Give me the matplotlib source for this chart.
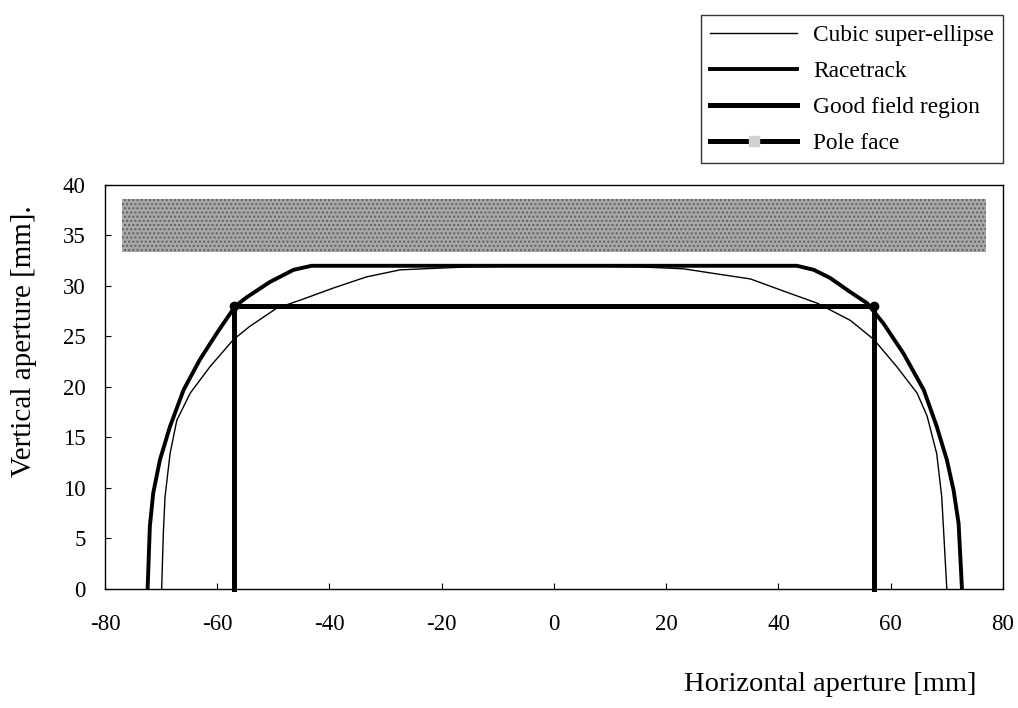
import matplotlib
matplotlib.use("Agg")
import matplotlib.pyplot as plt
from matplotlib.lines import Line2D

plt.rcParams['font.family'] = ['Liberation Serif', 'DejaVu Serif']
plt.rcParams['axes.unicode_minus'] = False

# cubic super-ellipse (thin line)
se_x = [-69.9, -69.6, -69.3, -68.4, -67.2, -64.8, -61.3, -57.1, -54.2, -49.4,
        -45.2, -39.3, -33.4, -27.4, -15.0, 0.0, 15.0, 23.1, 29.0, 35.0,
        40.9, 46.9, 52.8, 57.0, 61.1, 64.7, 66.5, 68.2, 69.1, 70.0]
se_y = [0.0, 5.5, 9.1, 13.4, 16.7, 19.4, 22.0, 24.7, 26.0, 27.8,
        28.6, 29.8, 30.9, 31.6, 31.9, 32.0, 31.9, 31.7, 31.2, 30.7,
        29.5, 28.3, 26.6, 24.7, 22.0, 19.4, 17.1, 13.4, 9.1, 0.0]

# racetrack
rt_x = [-72.4, -72.0, -71.4, -70.2, -68.4, -66.0, -63.1, -60.1, -56.8, -54.7,
        -50.6, -46.4, -43.2, 43.3, 46.3, 49.2, 52.8, 55.8, 58.7, 62.3,
        65.9, 68.2, 70.0, 71.2, 72.1, 72.7]
rt_y = [0.0, 6.2, 9.5, 12.8, 16.1, 19.7, 22.7, 25.3, 28.0, 28.9,
        30.4, 31.6, 32.0, 32.0, 31.6, 30.8, 29.4, 28.3, 26.3, 23.3,
        19.7, 16.1, 12.8, 9.8, 6.5, 0.0]

# good field region
gf_x = [-57, -57, 57, 57]
gf_y = [0, 28, 28, 0]

# pole face band
pole_x = [-77, 77]
pole_lo = 33.4
pole_hi = 38.6

fig = plt.figure(figsize=(10.18, 7.08), dpi=100)
ax = fig.add_axes([0.1031, 0.1681, 0.8821, 0.5706])

ax.fill_between(pole_x, pole_lo, pole_hi, facecolor='#a8a8a8', edgecolor='#606060',
                hatch='....', linewidth=0)
ax.plot(se_x, se_y, color='black', lw=1.0)
ax.plot(rt_x, rt_y, color='black', lw=2.8, solid_joinstyle='round')
ax.plot(gf_x, gf_y, color='black', lw=3.6, solid_joinstyle='round', clip_on=False,
        marker='o', markevery=[1, 2], markersize=6)

ax.set_xlim(-80, 80)
ax.set_ylim(0, 40)
ax.set_xticks(range(-80, 81, 20))
ax.set_yticks(range(0, 41, 5))
ax.tick_params(direction='in', length=4, width=0.8, labelsize=16.5, colors='black')
ax.tick_params(axis='x', pad=18)
ax.tick_params(axis='y', pad=14)
for s in ax.spines.values():
    s.set_linewidth(1.0)

ax.set_xlabel('Horizontal aperture [mm]', fontsize=20.5, ha='right')
ax.xaxis.set_label_coords(0.971, -0.205)
ax.set_ylabel('Vertical aperture [mm].', fontsize=21)
ax.yaxis.set_label_coords(-0.076, 0.614)

handles = [
    Line2D([], [], color='black', lw=1.0),
    Line2D([], [], color='black', lw=2.8),
    Line2D([], [], color='black', lw=3.6),
    (Line2D([], [], color='black', lw=3.6),
     Line2D([], [], ls='none', marker='s', markersize=7, color='#d0d0d0')),
]
labels = ['Cubic super-ellipse', 'Racetrack', 'Good field region', 'Pole face']
leg = fig.legend(handles, labels, loc='upper right',
                 bbox_to_anchor=(0.9853, 0.9788), bbox_transform=fig.transFigure,
                 fontsize=16.8, handlelength=3.73, labelspacing=0.63,
                 fancybox=False, borderaxespad=0, borderpad=0.4,
                 handletextpad=0.68)
leg.get_frame().set_edgecolor('black')
leg.get_frame().set_linewidth(1.0)

fig.savefig('out.png', dpi=100)
